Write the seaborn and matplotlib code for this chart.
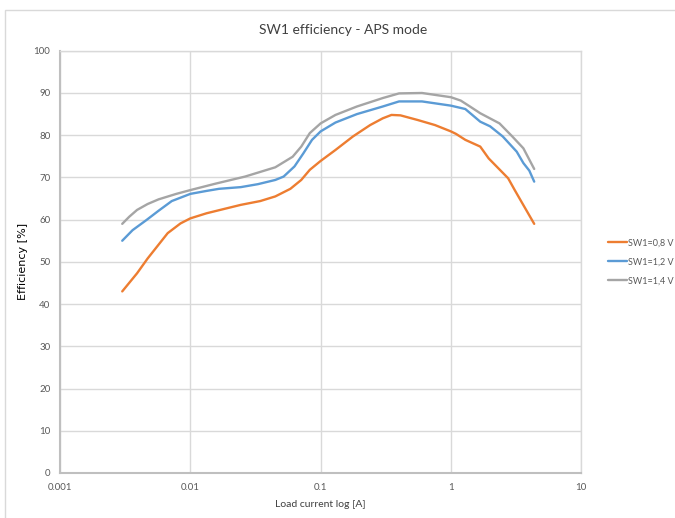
import numpy as np
import pandas as pd
import matplotlib
matplotlib.use("Agg")
import matplotlib.pyplot as plt
import seaborn as sns
from matplotlib.patches import Rectangle

# values
cur_08 = [0.003, 0.0039, 0.0047, 0.0067, 0.0084, 0.01, 0.0133, 0.018, 0.0244, 0.0344,
          0.0449, 0.0586, 0.071, 0.0826, 0.1, 0.13, 0.177, 0.24, 0.30, 0.35, 0.41,
          0.556, 0.755, 1.0, 1.096, 1.29, 1.68, 1.95, 2.75, 3.09, 3.47, 4.36]
eff_08 = [43, 47.3, 50.8, 56.8, 59.1, 60.3, 61.5, 62.5, 63.5, 64.4,
          65.5, 67.3, 69.4, 71.8, 73.9, 76.5, 79.7, 82.4, 84.0, 84.8, 84.7,
          83.6, 82.4, 80.9, 80.3, 78.9, 77.3, 74.5, 69.8, 67.0, 64.3, 59]

cur_12 = [0.003, 0.0036, 0.0046, 0.0057, 0.0072, 0.01, 0.0133, 0.0166, 0.0244, 0.033,
          0.0449, 0.052, 0.063, 0.0737, 0.0859, 0.1, 0.13, 0.19, 0.30, 0.40, 0.60,
          1.0, 1.29, 1.68, 2.0, 2.5, 3.2, 3.6, 4.0, 4.36]
eff_12 = [55, 57.5, 59.9, 62.1, 64.4, 66.1, 66.8, 67.3, 67.7, 68.4,
          69.4, 70.2, 72.6, 75.7, 78.9, 80.9, 83.0, 85.0, 86.8, 88.0, 88.0,
          87.0, 86.2, 83.2, 82.1, 79.7, 76.1, 73.4, 71.6, 69]

cur_14 = [0.003, 0.0034, 0.0039, 0.0047, 0.0057, 0.0078, 0.01, 0.0155, 0.0263, 0.0449,
          0.061, 0.071, 0.0826, 0.1, 0.13, 0.19, 0.30, 0.40, 0.60, 1.0, 1.19,
          1.40, 1.68, 2.36, 2.96, 3.6, 4.36]
eff_14 = [59, 60.7, 62.3, 63.7, 64.8, 66.1, 67.0, 68.5, 70.2, 72.4,
          74.9, 77.3, 80.5, 82.8, 84.8, 86.8, 88.8, 89.9, 90.0, 89.0, 88.2,
          86.8, 85.2, 82.8, 79.7, 76.9, 72]

series_names = ["SW1=0,8 V", "SW1=1,2 V", "SW1=1,4 V"]
colors = ["#ED7D31", "#5B9BD5", "#A5A5A5"]

frames = []
for name, x, y in zip(series_names, [cur_08, cur_12, cur_14], [eff_08, eff_12, eff_14]):
    frames.append(pd.DataFrame({"current": x, "eff": y, "series": name}))
df = pd.concat(frames, ignore_index=True)

sns.set_style("white")
plt.rcParams["font.family"] = ["Lato", "DejaVu Sans"]

fig = plt.figure(figsize=(6.75, 5.18), dpi=100)
ax = fig.add_axes([0.089, 0.087, 0.772, 0.815])

sns.lineplot(data=df, x="current", y="eff", hue="series", palette=colors,
             sort=False, estimator=None, linewidth=1.7, ax=ax)

ax.set_xscale("log")
ax.set_xlim(0.001, 10)
ax.set_ylim(0, 100)
ax.set_yticks(range(0, 101, 10))
ax.set_xticks([0.001, 0.01, 0.1, 1, 10])
ax.set_xticklabels(["0.001", "0.01", "0.1", "1", "10"])
ax.minorticks_off()
ax.grid(True, color="#D9D9D9", linewidth=1)
ax.tick_params(length=0, labelsize=7, colors="#595959", pad=7)
for s in ax.spines.values():
    s.set_color("#D9D9D9")
    s.set_linewidth(1)
ax.spines["left"].set_color("#BFBFBF")
ax.spines["bottom"].set_color("#BFBFBF")
ax.spines["left"].set_linewidth(1.5)
ax.spines["bottom"].set_linewidth(1.5)

ax.set_xlabel("Load current log [A]", fontsize=7.5, color="#404040", labelpad=6)
ax.set_ylabel("Efficiency [%]", fontsize=8, color="black",
              family="DejaVu Sans", labelpad=4)
fig.text(0.508, 0.942, "SW1 efficiency - APS mode", fontsize=10, color="#404040",
         ha="center", va="center")

leg = ax.legend(loc="center left", bbox_to_anchor=(1.035, 0.5), frameon=False,
                fontsize=6.5, handlelength=2.2, handletextpad=0.1,
                labelspacing=1.1)
for t in leg.get_texts():
    t.set_color("#595959")

fig.patches.append(Rectangle((0.008, -0.01), 1.0, 0.99, transform=fig.transFigure,
                             fill=False, edgecolor="#D9D9D9", linewidth=1))

fig.savefig("out.png", dpi=100, facecolor="white")
